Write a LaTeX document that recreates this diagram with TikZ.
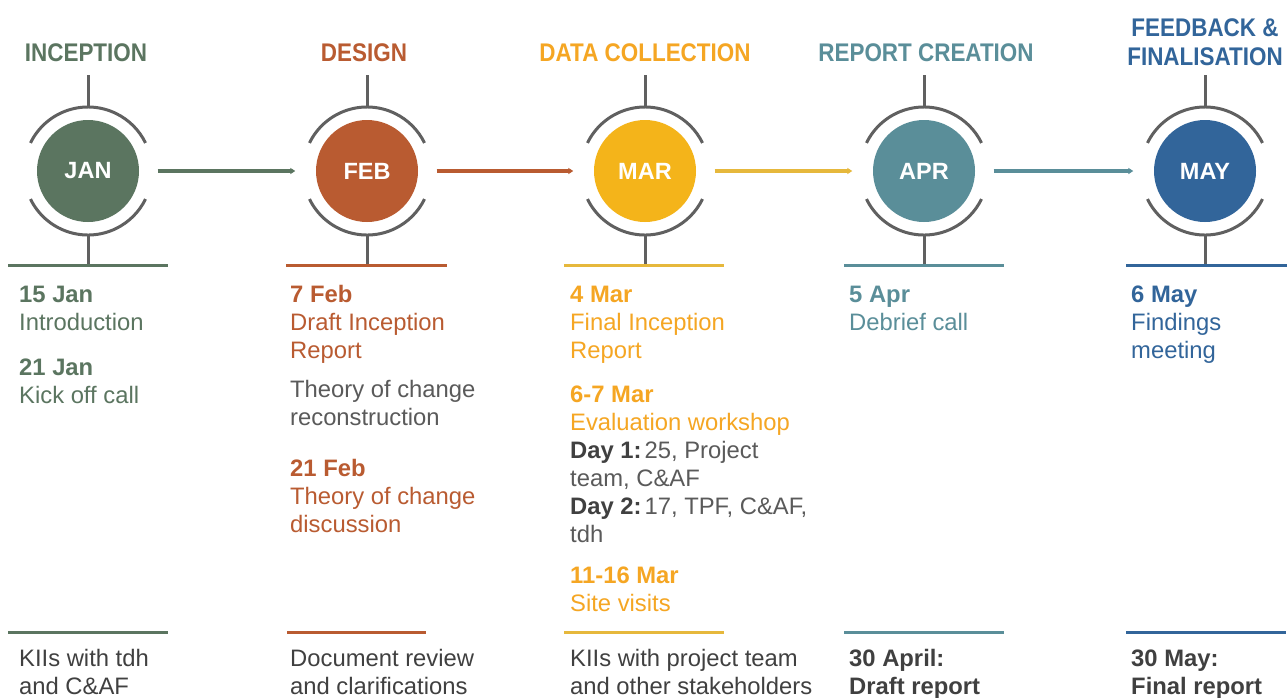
\documentclass[tikz,border=0pt]{standalone}
\usepackage{fontspec}
\setmainfont{Liberation Sans}
\newfontfamily\headfont[FakeStretch=0.88]{Liberation Sans}
\usetikzlibrary{arrows.meta}

\definecolor{cjan}{HTML}{5B7560}
\definecolor{cfeb}{HTML}{B95B31}
\definecolor{cmar}{HTML}{F4B41A}
\definecolor{cmartxt}{HTML}{F5A623}
\definecolor{cmarline}{HTML}{E6B83C}
\definecolor{capr}{HTML}{5A8E99}
\definecolor{cmay}{HTML}{32659A}
\definecolor{ringgray}{HTML}{606060}
\definecolor{notegray}{HTML}{5A5A5A}
\definecolor{darkgray}{HTML}{404040}

\tikzset{
  month/.style={circle, fill=#1, minimum size=102pt, inner sep=0pt,
    text=white, font=\fontsize{23.5}{23.5}\selectfont\bfseries},
  phase/.style={text=#1, font=\headfont\bfseries\fontsize{25.5}{29}\selectfont,
    align=center, inner sep=0pt, anchor=base},
  ringline/.style={draw=ringgray, line width=3pt},
  rule/.style={draw=#1, line width=3pt},
  flow/.style={draw=#1, line width=4.5pt, -{Triangle[length=5pt,width=6pt]}},
  entries/.style={text=#1, anchor=north west, inner sep=0pt, align=left,
    font=\fontsize{23.8}{28}\selectfont},
}

\newcommand{\gr}[1]{\textcolor{notegray}{#1}}
\newcommand{\dk}[1]{\textcolor{darkgray}{\bfseries #1}}

\begin{document}
\begin{tikzpicture}[x=1pt,y=-1pt]
\useasboundingbox[fill=white] (0,0) rectangle (1287,697);

% month discs
\node[month=cjan] (jan) at (88,171) {JAN};
\node[month=cfeb] (feb) at (367,171) {FEB};
\node[month=cmar] (mar) at (645,171) {MAR};
\node[month=capr] (apr) at (924,171) {APR};
\node[month=cmay] (may) at (1205,171) {MAY};

% open rings with stems above and below each disc
\foreach \m in {jan,feb,mar,apr,may}{
  \draw[ringline] (\m.center) ++(154:64pt) arc[start angle=154, end angle=26, radius=64pt];
  \draw[ringline] (\m.center) ++(206:64pt) arc[start angle=206, end angle=334, radius=64pt];
  \draw[ringline] ([yshift=64pt]\m.center) -- ([yshift=96pt]\m.center);
  \draw[ringline] ([yshift=-64pt]\m.center) -- ([yshift=-94pt]\m.center);
}

% connectors between months
\draw[flow=cjan] ([xshift=18.5pt]jan.east) -- ([xshift=-20.5pt]feb.west);
\draw[flow=cfeb] ([xshift=18.5pt]feb.east) -- ([xshift=-20.5pt]mar.west);
\draw[flow=cmarline] ([xshift=18.5pt]mar.east) -- ([xshift=-20.5pt]apr.west);
\draw[flow=capr] ([xshift=18.5pt]apr.east) -- ([xshift=-20.5pt]may.west);

% phase titles
\node[phase=cjan] (t1) at (86,61.5) {INCEPTION};
\node[phase=cfeb] (t2) at (364,61.5) {DESIGN};
\node[phase=cmartxt] (t3) at (645,61.5) {DATA COLLECTION};
\node[phase=capr] (t4) at (926,61.5) {REPORT CREATION};
\node[phase=cmay] (t5) at (1205,65) {FEEDBACK \&\\FINALISATION};

% rules under the discs
\draw[rule=cjan] (8,265) -- (168,265);
\draw[rule=cfeb] (286,265) -- (447,265);
\draw[rule=cmarline] (564,265) -- (724,265);
\draw[rule=capr] (844,265) -- (1004,265);
\draw[rule=cmay] (1126,265) -- (1287,265);

% rules above the bottom notes
\draw[rule=cjan] (8,632) -- (168,632);
\draw[rule=cfeb] (287,632) -- (426,632);
\draw[rule=cmarline] (564,632) -- (724,632);
\draw[rule=capr] (844,632) -- (1004,632);
\draw[rule=cmay] (1126,632) -- (1286,632);

% milestones
\node[entries=cjan] (e1) at (19,282.4)
  {\strut\textbf{15 Jan}\\Introduction\\[17pt]\textbf{21 Jan}\\Kick off call};
\node[entries=cfeb] (e2) at (290,282.4)
  {\strut\textbf{7 Feb}\\Draft Inception\\Report\\[11pt]\gr{Theory of change}\\\gr{reconstruction}\\[23pt]%
   \textbf{21 Feb}\\Theory of change\\discussion};
\node[entries=cmartxt] (e3) at (570,282.4)
  {\strut\textbf{4 Mar}\\Final Inception\\Report\\[16pt]\textbf{6-7 Mar}\\Evaluation workshop\\%
   \dk{Day 1:}\hspace{3pt}\gr{25, Project}\\\gr{team, C\&AF}\\\dk{Day 2:}\hspace{3pt}\gr{17, TPF, C\&AF,}\\\gr{tdh}\\[13pt]%
   \textbf{11-16 Mar}\\Site visits};
\node[entries=capr] (e4) at (849,282.4)
  {\strut\textbf{5 Apr}\\Debrief call};
\node[entries=cmay] (e5) at (1131,282.4)
  {\strut\textbf{6 May}\\Findings\\meeting};

% notes at the foot of each column
\node[entries=darkgray] (b1) at (19,646.4) {\strut KIIs with tdh\\and C\&AF};
\node[entries=darkgray] (b2) at (290,646.4) {\strut Document review\\and clarifications};
\node[entries=darkgray] (b3) at (570,646.4) {\strut KIIs with project team\\and other stakeholders};
\node[entries=darkgray] (b4) at (849,646.4) {\strut\textbf{30 April:}\\\textbf{Draft report}};
\node[entries=darkgray] (b5) at (1131,646.4) {\strut\textbf{30 May:}\\\textbf{Final report}};
\end{tikzpicture}
\end{document}
